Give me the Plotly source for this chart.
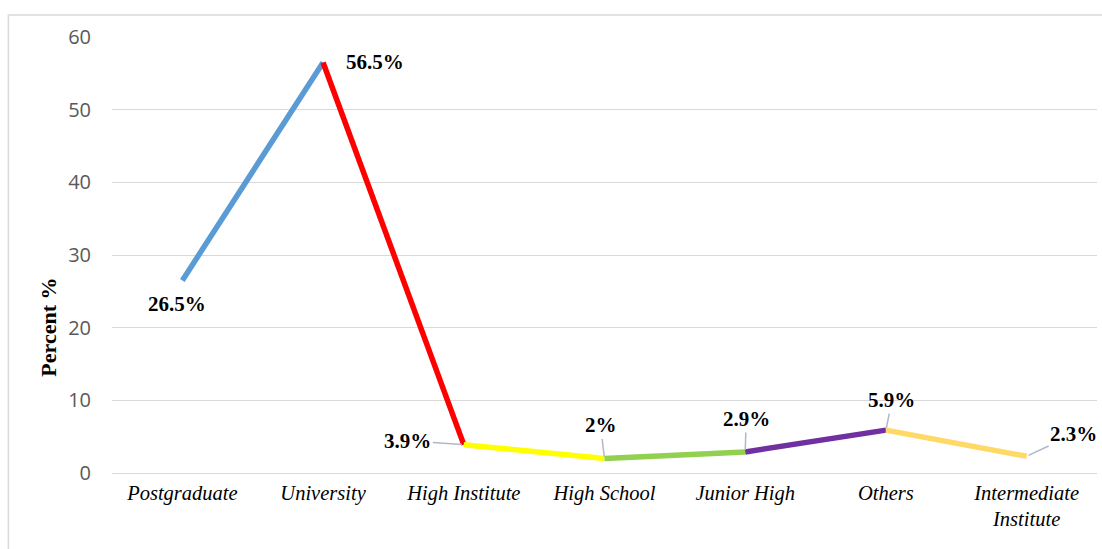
import plotly.graph_objects as go

categories = ["Postgraduate", "University", "High Institute", "High School",
              "Junior High", "Others", "Intermediate<br>Institute"]
values = [26.5, 56.5, 3.9, 2, 2.9, 5.9, 2.3]
labels = ["26.5%", "56.5%", "3.9%", "2%", "2.9%", "5.9%", "2.3%"]
segment_colors = ["#5B9BD5", "#FF0000", "#FFFF00", "#92D050", "#7030A0", "#FFD966"]
y_ticks = [0, 10, 20, 30, 40, 50, 60]

fig = go.Figure()
for i, col in enumerate(segment_colors):
    fig.add_trace(go.Scatter(
        x=[categories[i], categories[i + 1]],
        y=[values[i], values[i + 1]],
        mode="lines",
        line=dict(color=col, width=5.5),
        showlegend=False,
        hoverinfo="skip",
        cliponaxis=False,
    ))

# label placement (pixel offsets): (ax, ay, arrow)
label_pos = [(-5, 24, False), (52, 0, False), (-56, -4, True), (-4, -33, True),
             (1, -33, True), (6, -30, True), (47, -22, True)]
for cat, v, lab, (dx, dy, arrow) in zip(categories, values, labels, label_pos):
    if arrow:
        fig.add_annotation(
            x=cat, y=v, text=f"<b>{lab}</b>", showarrow=True, arrowhead=0,
            arrowwidth=1.5, arrowcolor="#ADB9CA", ax=dx, ay=dy, standoff=2,
            font=dict(family="Liberation Serif", size=21, color="black"),
        )
    else:
        fig.add_annotation(
            x=cat, y=v, text=f"<b>{lab}</b>", showarrow=False,
            xshift=dx, yshift=-dy,
            font=dict(family="Liberation Serif", size=21, color="black"),
        )

fig.add_annotation(
    xref="paper", yref="paper", x=-0.079, y=0.335, text="<b>Percent %</b>",
    textangle=-90, showarrow=False,
    font=dict(family="Liberation Serif", size=22, color="black"),
)

# outer frame
fig.add_shape(type="rect", xref="paper", yref="paper",
              x0=-0.1052, x1=1.02, y0=-0.2, y1=1.0505,
              line=dict(color="#D9D9D9", width=1.5), fillcolor="rgba(0,0,0,0)")

fig.update_layout(
    width=1102, height=549,
    margin=dict(l=112, r=5, t=37, b=76),
    paper_bgcolor="white", plot_bgcolor="white",
    xaxis=dict(
        type="category", categoryorder="array", categoryarray=categories,
        range=[-0.5, 6.5], showgrid=False, showline=False, zeroline=False,
        tickfont=dict(family="Liberation Serif", size=20.5, color="black"),
        ticklabelstandoff=5,
    ),
    yaxis=dict(
        range=[0, 60], tickvals=y_ticks, showgrid=True, gridcolor="#D9D9D9",
        gridwidth=1, zeroline=True, zerolinecolor="#D9D9D9", zerolinewidth=1,
        showline=False,
        tickfont=dict(family="Open Sans", size=20, color="#595959"),
        ticklabelstandoff=20,
    ),
)
fig.update_xaxes(tickfont_style="italic")

fig.write_html("out.html")
